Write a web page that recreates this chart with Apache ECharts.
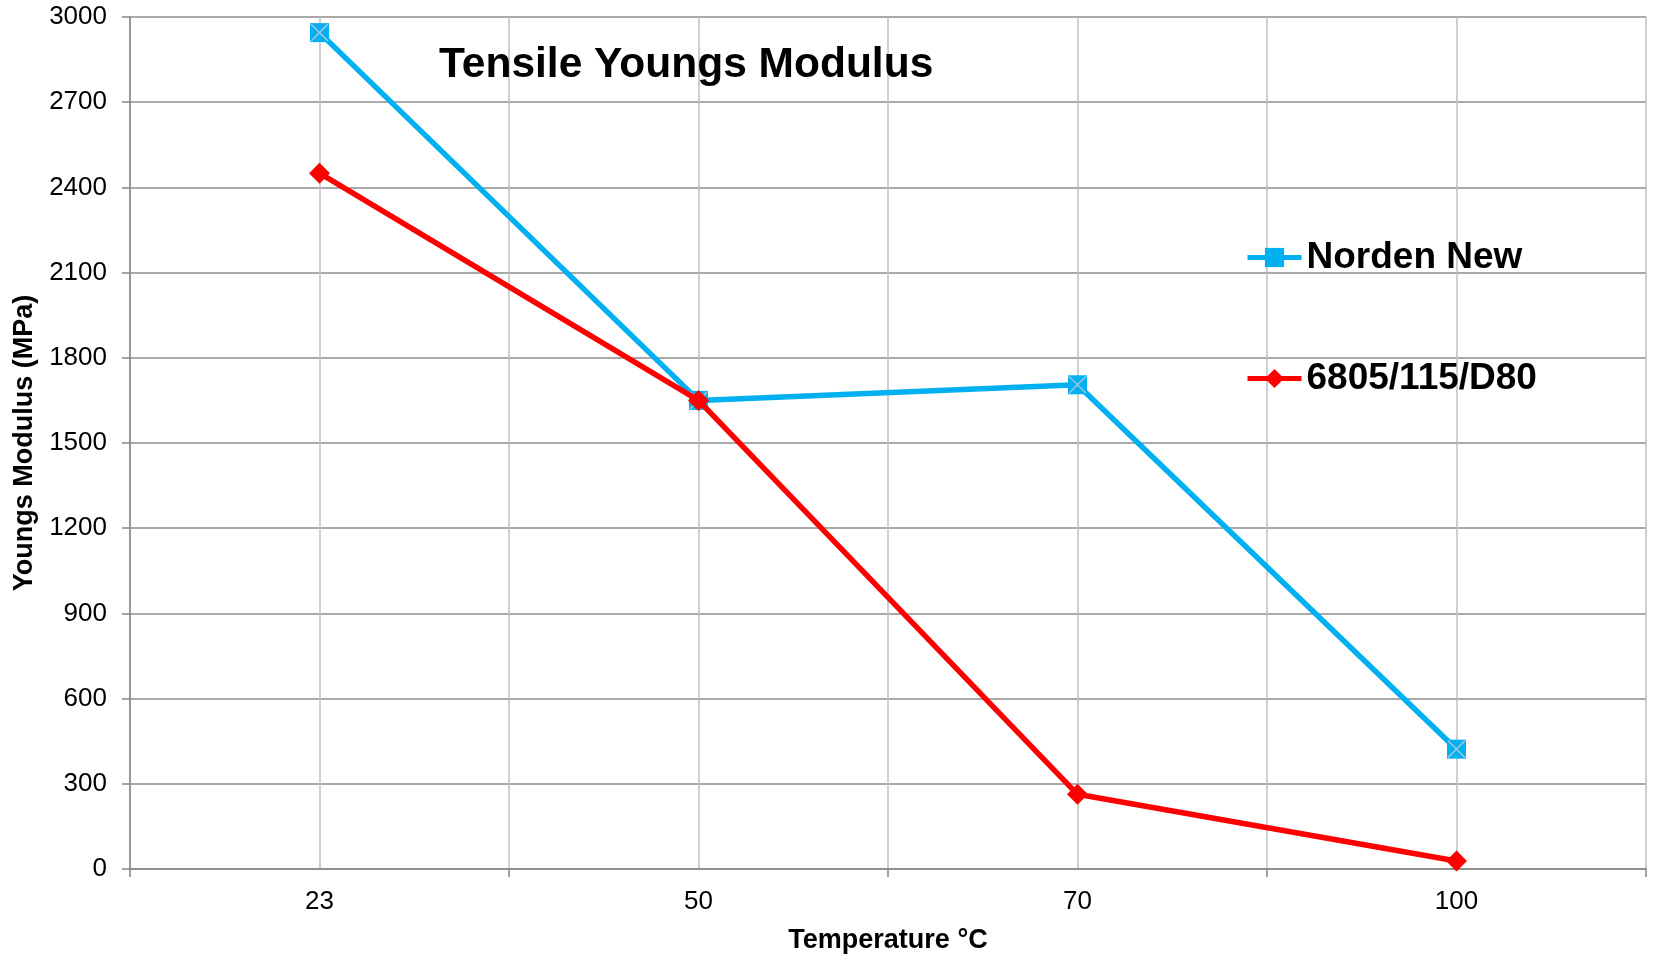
<!DOCTYPE html>
<html>
<head>
<meta charset="utf-8">
<script src="https://cdn.jsdelivr.net/npm/echarts@6/dist/echarts.min.js"></script>
<style>
  html, body { margin: 0; padding: 0; background: #fff; }
  #chart { width: 1653px; height: 959px; }
</style>
</head>
<body>
<div id="chart"></div>
<script>
// data
const temperatures = ['23', '50', '70', '100'];
const nordenNew = [2945, 1650, 1705, 422];
const d80 = [2450, 1650, 263, 28];
const yTicks = { min: 0, max: 3000, step: 300 };

const FONT = 'Liberation Sans, Arial, sans-serif';
const chart = echarts.init(document.getElementById('chart'));

const option = {
  backgroundColor: '#fff',
  animation: false,
  title: {
    text: 'Tensile Youngs Modulus',
    left: 439,
    top: 44,
    padding: 0,
    textStyle: { fontFamily: FONT, fontSize: 42.5, fontWeight: 'bold', color: '#000' }
  },
  legend: {
    orient: 'vertical',
    left: 1245,
    top: 239,
    padding: 0,
    itemGap: 84,
    itemWidth: 54,
    itemHeight: 24,
    data: ['Norden New', '6805/115/D80'],
    lineStyle: { width: 5 },
    textStyle: { fontFamily: FONT, fontSize: 37, fontWeight: 'bold', color: '#000' }
  },
  grid: { left: 130, right: 7, top: 17, bottom: 86, containLabel: false },
  xAxis: [
    {
      type: 'category',
      data: temperatures,
      boundaryGap: true,
      name: 'Temperature °C',
      nameLocation: 'middle',
      nameGap: 58,
      nameTextStyle: { fontFamily: FONT, fontSize: 27, fontWeight: 'bold', color: '#000' },
      axisLine: { lineStyle: { color: '#868686', width: 1.5 } },
      axisTick: { show: true, length: 8, alignWithLabel: false, lineStyle: { color: '#868686', width: 1.5 } },
      axisLabel: { margin: 20, fontFamily: FONT, fontSize: 26, color: '#000' },
      splitLine: { show: false }
    },
    {
      // only carries the vertical grid at every half category
      type: 'value',
      min: 0,
      max: temperatures.length,
      interval: 0.5,
      position: 'bottom',
      axisLine: { show: false },
      axisTick: { show: false },
      axisLabel: { show: false },
      splitLine: { show: true, lineStyle: { color: '#bfbfbf', width: 1.5 } }
    }
  ],
  yAxis: {
    type: 'value',
    min: yTicks.min,
    max: yTicks.max,
    interval: yTicks.step,
    name: 'Youngs Modulus (MPa)',
    nameLocation: 'middle',
    nameGap: 85,
    nameTextStyle: { fontFamily: FONT, fontSize: 27, fontWeight: 'bold', color: '#000' },
    axisLine: { show: true, lineStyle: { color: '#868686', width: 1.5 } },
    axisTick: { show: true, length: 8, lineStyle: { color: '#868686', width: 1.5 } },
    axisLabel: {
      margin: 23, fontFamily: FONT, fontSize: 26, color: '#000',
      formatter: (v) => String(v)
    },
    splitLine: { lineStyle: { color: '#8c8c8c', width: 1.5 } }
  },
  series: [
    {
      name: 'Norden New',
      type: 'line',
      data: nordenNew,
      symbol: 'rect',
      symbolSize: 19,
      lineStyle: { color: '#00b0f0', width: 5.5 },
      itemStyle: { color: '#00b0f0' },
      z: 3
    },
    {
      // the light cross drawn over the blue squares
      name: 'Norden New',
      type: 'line',
      data: nordenNew,
      symbol: 'path://M0,0L10,10M10,0L0,10',
      symbolSize: 17,
      lineStyle: { width: 0, opacity: 0 },
      itemStyle: { color: 'rgba(0,0,0,0)', borderColor: '#9cc3e0', borderWidth: 1.5 },
      silent: true,
      z: 4
    },
    {
      name: '6805/115/D80',
      type: 'line',
      data: d80,
      symbol: 'diamond',
      symbolSize: 21,
      lineStyle: { color: '#ff0000', width: 5.5 },
      itemStyle: { color: '#ff0000' },
      z: 5
    }
  ]
};

chart.setOption(option);
</script>
</body>
</html>
